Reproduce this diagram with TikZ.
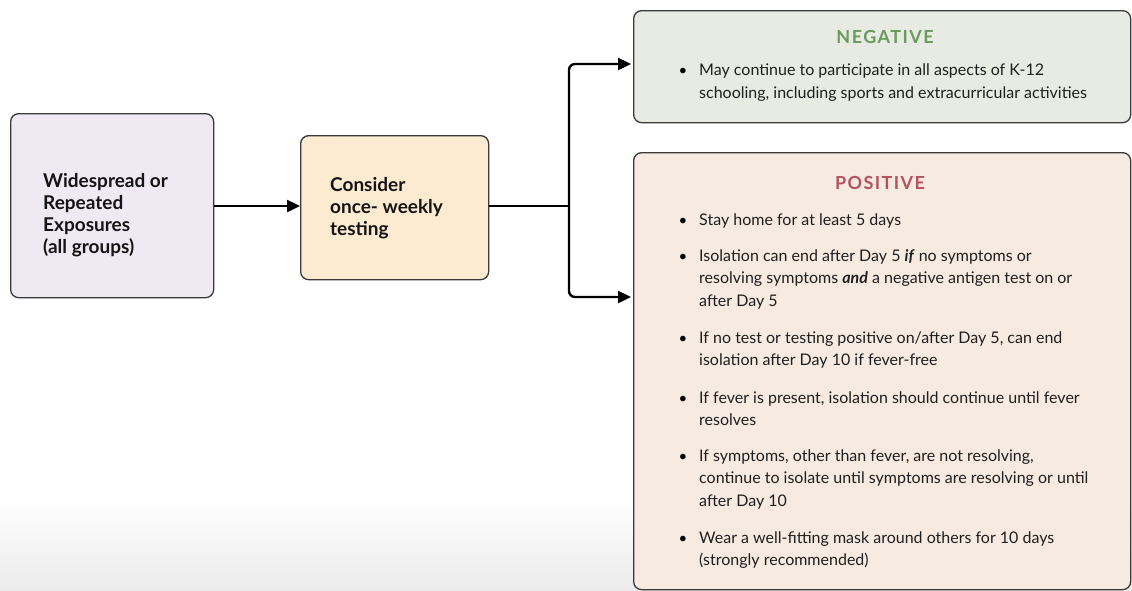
\documentclass[tikz,border=0pt]{standalone}
\usepackage{fontspec}
\setmainfont{Lato}
\usetikzlibrary{arrows.meta}
\definecolor{boxline}{HTML}{3A3A3A}
\definecolor{lav}{HTML}{EFE9F3}
\definecolor{cream}{HTML}{FCEBD1}
\definecolor{negfill}{HTML}{E7EBE3}
\definecolor{posfill}{HTML}{F7EAE1}
\definecolor{neggreen}{HTML}{6B9A5B}
\definecolor{posred}{HTML}{B5525E}
\tikzset{
  box/.style={draw=boxline, line width=1.3pt, rounded corners=8pt, anchor=north west, inner sep=0pt},
  conn/.style={line width=2.4pt, black},
  arr/.style={conn, -{Triangle[length=13pt,width=12pt]}},
  boldtext/.style={anchor=north west, inner sep=0pt, align=left, font=\fontsize{19}{22}\selectfont\bfseries, text=black!92},
  itemtext/.style={anchor=north west, inner sep=0pt, align=left, font=\fontsize{16}{22.7}\selectfont, text=black!88},
  bul/.style={anchor=base, inner sep=0pt, font=\fontsize{15}{22.7}\selectfont},
  title/.style={anchor=base, inner sep=0pt, font=\fontsize{18}{20}\selectfont\bfseries\addfontfeature{LetterSpace=8}},
}
\newcommand\bitem[3]{%
  \node[bul] (#1b) at (683,#2) {\textbullet};
  \node[itemtext] (#1) at (699,{#2-15.89}) {\strut #3};}
\begin{document}
\begin{tikzpicture}[x=1pt,y=-1pt]
\useasboundingbox (0,0) rectangle (1132,590);
\fill[white] (0,0) rectangle (1132,590);
\shade[top color=white, bottom color=black!8] (0,500) rectangle (1132,590);

% boxes
\node[box, fill=lav, minimum width=203pt, minimum height=184pt] (b1) at (10,113) {};
\node[box, fill=cream, minimum width=188pt, minimum height=144pt] (b2) at (300,135) {};
\node[box, fill=negfill, minimum width=497pt, minimum height=112pt] (neg) at (633,10) {};
\node[box, fill=posfill, minimum width=497pt, minimum height=437pt] (pos) at (633,152) {};

% left texts
\node[boldtext] (b1t) at (43,{187-15.4}) {\strut Widespread or\\Repeated\\Exposures\\(all groups)};
\node[boldtext] (b2t) at (330,{191-15.4}) {\strut Consider\\once- weekly\\testing};

% titles
\node[title, text=neggreen] (negt) at (885,43) {NEGATIVE};
\node[title, text=posred] (post) at (880,189) {POSITIVE};

% negative items
\bitem{n1}{75.5}{May continue to participate in all aspects of K-12\\schooling, including sports and extracurricular activities}

% positive items
\bitem{p1}{225}{Stay home for at least 5 days}
\bitem{p2}{261}{Isolation can end after Day 5 \textbf{\textit{if}} no symptoms or\\resolving symptoms \textbf{\textit{and}} a negative antigen test on or\\after Day 5}
\bitem{p3}{343}{If no test or testing positive on/after Day 5, can end\\isolation after Day 10 if fever-free}
\bitem{p4}{403}{If fever is present, isolation should continue until fever\\resolves}
\bitem{p5}{461}{If symptoms, other than fever, are not resolving,\\continue to isolate until symptoms are resolving or until\\after Day 10}
\bitem{p6}{543}{Wear a well-fitting mask around others for 10 days\\(strongly recommended)}

% connectors
\coordinate (j) at (569,206);
\coordinate (negin) at (631,64);
\coordinate (posin) at (631,297);
\draw[arr] (b1.east |- 0,206) -- (b2.west |- 0,206);
\draw[conn] (b2.east |- 0,206) -- (j);
\draw[arr, rounded corners=6pt] (j) |- (negin);
\draw[arr, rounded corners=6pt] (j) |- (posin);
\end{tikzpicture}
\end{document}
